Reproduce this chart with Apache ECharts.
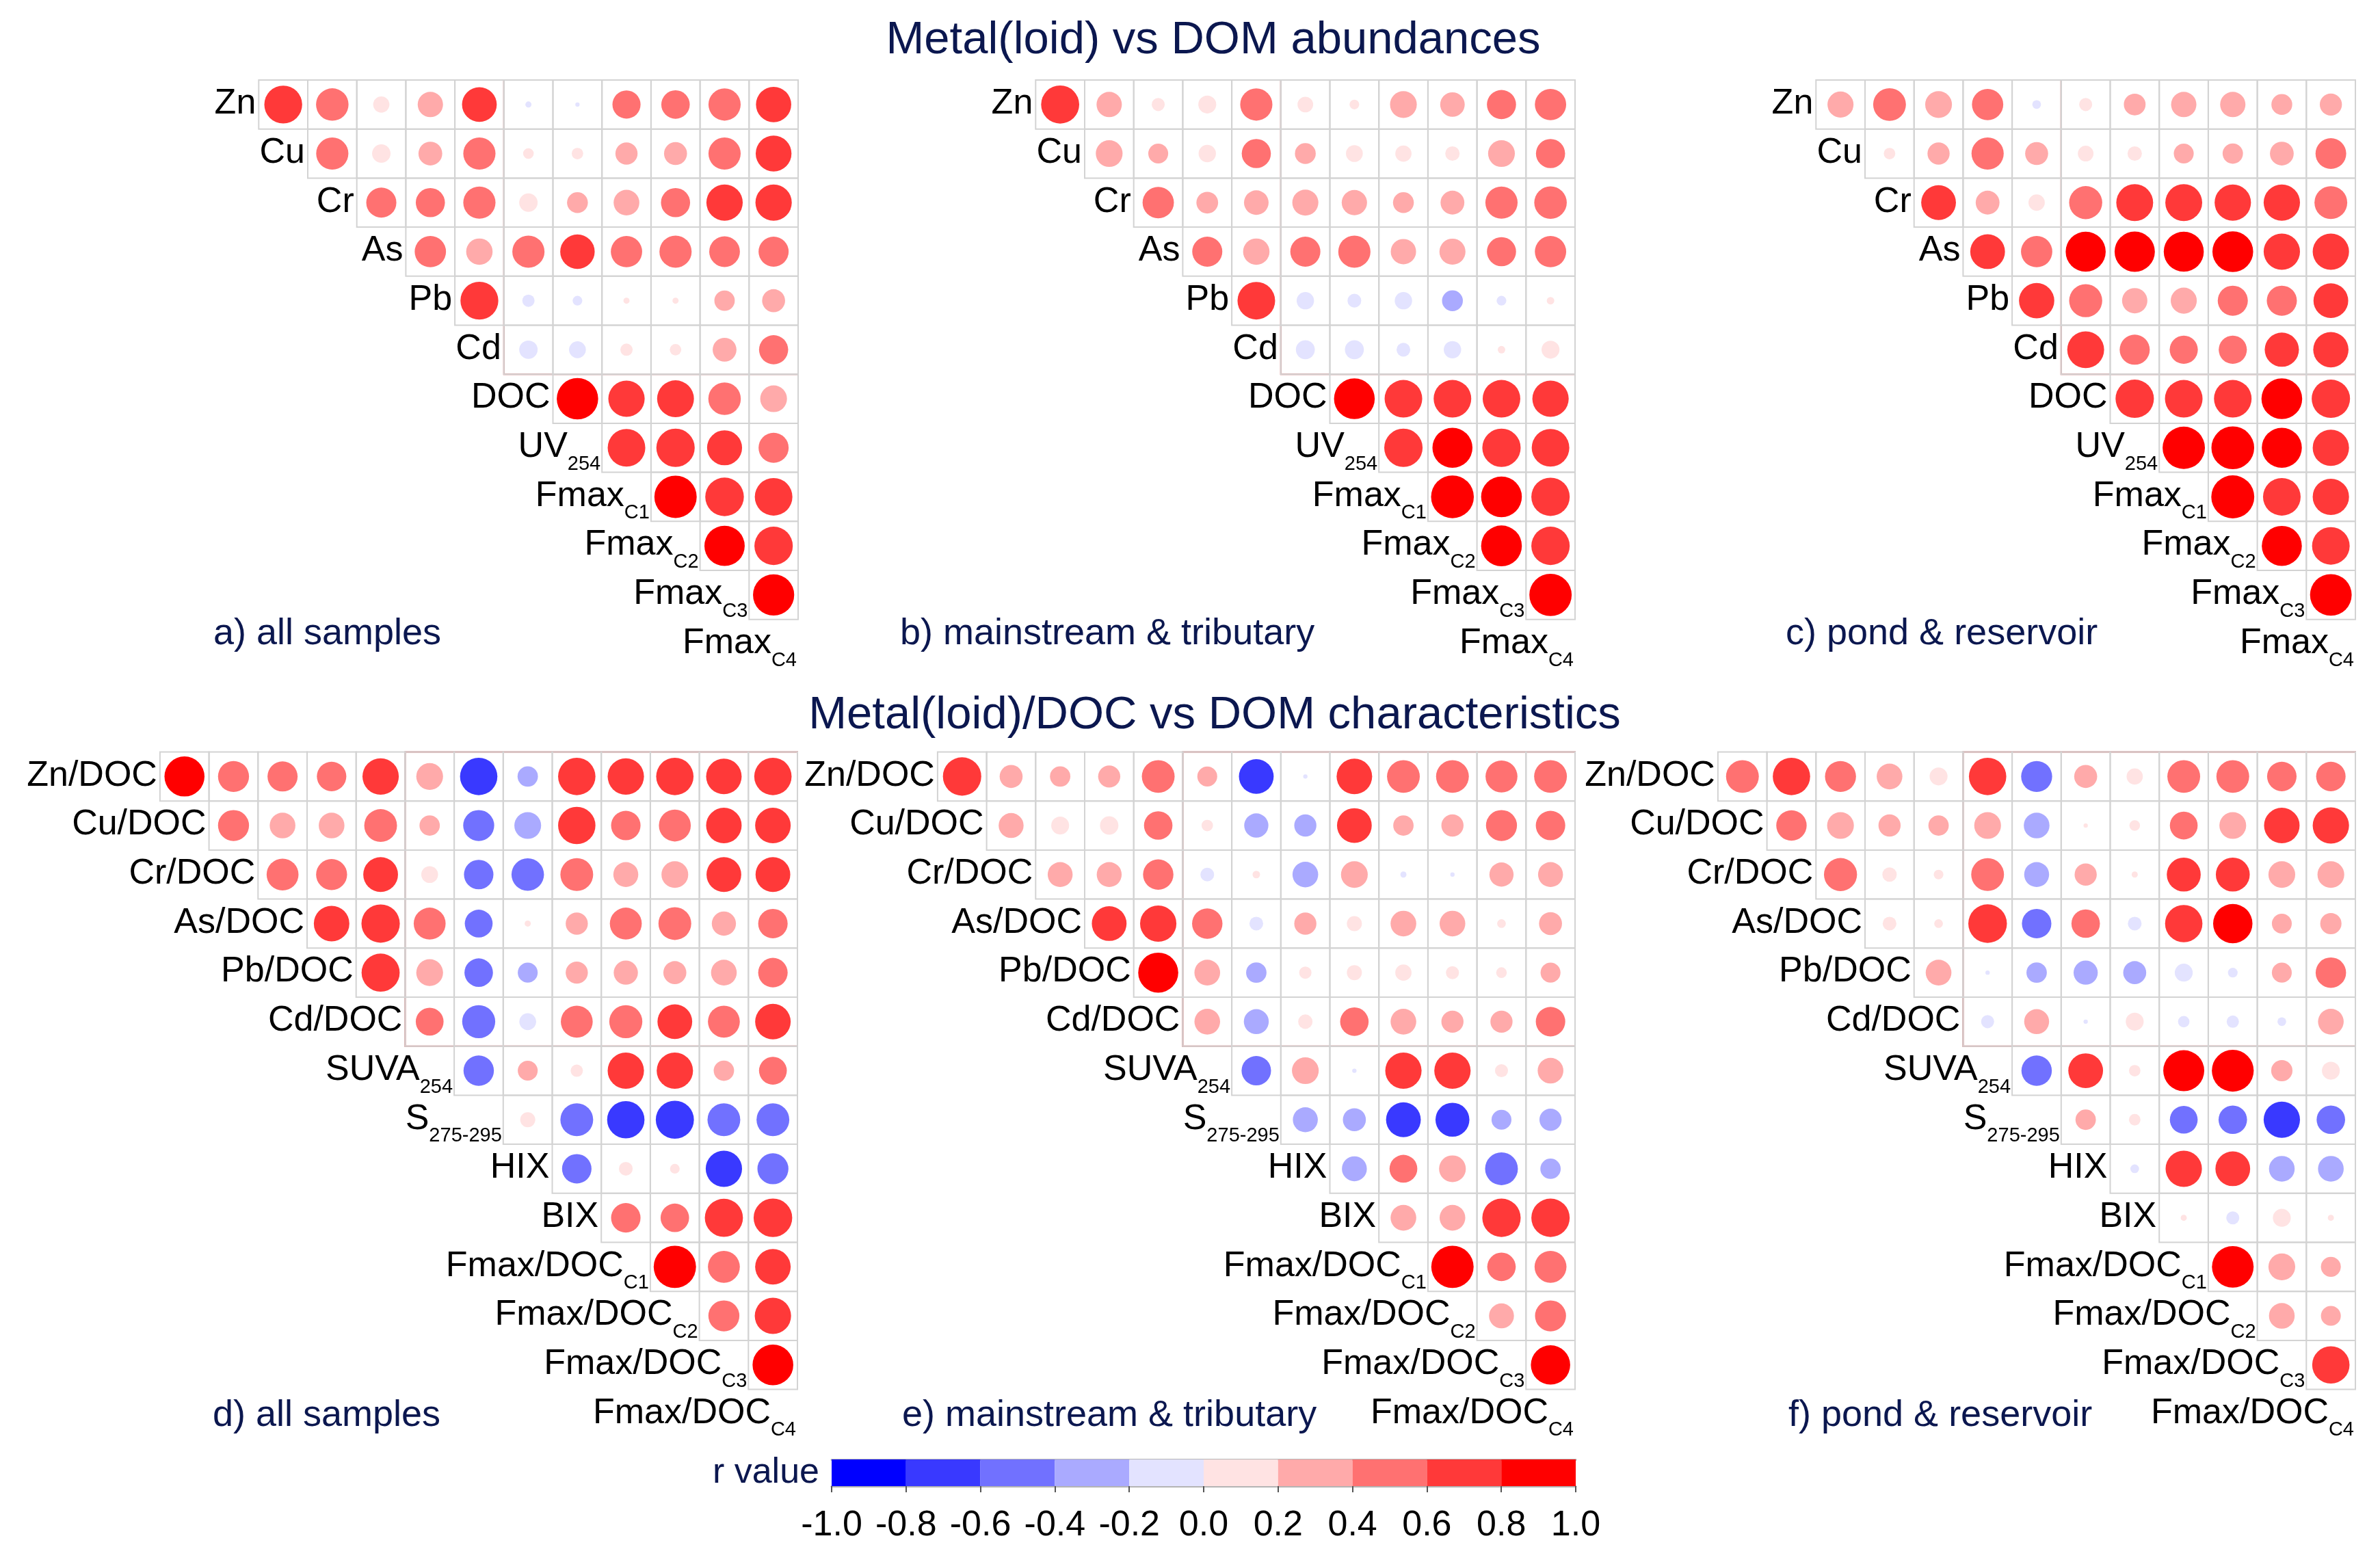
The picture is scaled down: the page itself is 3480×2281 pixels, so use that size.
<!DOCTYPE html>
<html>
<head>
<meta charset="utf-8">
<title>Metal(loid) vs DOM correlations</title>
<script src="https://cdn.jsdelivr.net/npm/echarts@6/dist/echarts.min.js"></script>
<style>
  html, body { margin: 0; padding: 0; background: #fff; }
  #chart { width: 3480px; height: 2281px; }
</style>
</head>
<body>
<div id="chart"></div>
<script>
// diagonal labels (name + subscript)
var topNames = ['Zn', 'Cu', 'Cr', 'As', 'Pb', 'Cd', 'DOC', 'UV', 'Fmax', 'Fmax', 'Fmax', 'Fmax'];
var topSubs = ['', '', '', '', '', '', '', '254', 'C1', 'C2', 'C3', 'C4'];
var botNames = ['Zn/DOC', 'Cu/DOC', 'Cr/DOC', 'As/DOC', 'Pb/DOC', 'Cd/DOC', 'SUVA', 'S', 'HIX', 'BIX',
  'Fmax/DOC', 'Fmax/DOC', 'Fmax/DOC', 'Fmax/DOC'];
var botSubs = ['', '', '', '', '', '', '254', '275-295', '', '', 'C1', 'C2', 'C3', 'C4'];

// r values, upper triangle row by row (row i -> columns i+1..n)
var rA = [
  [0.76, 0.56, 0.14, 0.34, 0.64, -0.02, -0.01, 0.42, 0.43, 0.55, 0.66],
  [0.55, 0.18, 0.30, 0.55, 0.06, 0.07, 0.26, 0.28, 0.55, 0.68],
  [0.48, 0.45, 0.55, 0.18, 0.23, 0.35, 0.45, 0.70, 0.70],
  [0.52, 0.37, 0.55, 0.63, 0.52, 0.55, 0.50, 0.48],
  [0.76, -0.08, -0.05, 0.02, 0.02, 0.22, 0.28],
  [-0.18, -0.15, 0.08, 0.07, 0.30, 0.45],
  [0.91, 0.70, 0.72, 0.56, 0.38],
  [0.75, 0.78, 0.65, 0.48],
  [0.95, 0.79, 0.75],
  [0.86, 0.78],
  [0.90]
];
var rB = [
  [0.77, 0.34, 0.09, 0.17, 0.55, 0.13, 0.05, 0.38, 0.32, 0.45, 0.52],
  [0.38, 0.21, 0.16, 0.45, 0.23, 0.15, 0.14, 0.11, 0.38, 0.45],
  [0.52, 0.25, 0.32, 0.36, 0.34, 0.23, 0.30, 0.55, 0.56],
  [0.48, 0.37, 0.48, 0.55, 0.34, 0.36, 0.45, 0.52],
  [0.75, -0.16, -0.10, -0.16, -0.23, -0.05, 0.03],
  [-0.19, -0.19, -0.10, -0.16, 0.03, 0.17],
  [0.88, 0.75, 0.75, 0.75, 0.70],
  [0.78, 0.85, 0.78, 0.75],
  [0.97, 0.88, 0.78],
  [0.88, 0.78],
  [0.95]
];
var rC = [
  [0.36, 0.57, 0.38, 0.52, -0.04, 0.09, 0.25, 0.34, 0.34, 0.23, 0.26],
  [0.07, 0.26, 0.55, 0.28, 0.13, 0.11, 0.21, 0.22, 0.30, 0.50],
  [0.64, 0.30, 0.14, 0.58, 0.72, 0.72, 0.70, 0.70, 0.57],
  [0.64, 0.52, 0.85, 0.86, 0.85, 0.88, 0.70, 0.70],
  [0.66, 0.58, 0.34, 0.36, 0.48, 0.48, 0.64],
  [0.72, 0.48, 0.42, 0.42, 0.62, 0.66],
  [0.78, 0.75, 0.75, 0.88, 0.78],
  [0.95, 0.97, 0.85, 0.70],
  [0.98, 0.75, 0.70],
  [0.85, 0.75],
  [0.92]
];
var rD = [
  [0.85, 0.51, 0.48, 0.46, 0.70, 0.38, -0.74, -0.22, 0.74, 0.70, 0.74, 0.67, 0.74],
  [0.51, 0.35, 0.35, 0.57, 0.22, -0.51, -0.38, 0.74, 0.46, 0.54, 0.67, 0.67],
  [0.54, 0.51, 0.64, 0.15, -0.46, -0.56, 0.57, 0.33, 0.38, 0.64, 0.64],
  [0.67, 0.78, 0.54, -0.41, 0.02, 0.26, 0.54, 0.57, 0.31, 0.46],
  [0.77, 0.38, -0.43, -0.21, 0.26, 0.31, 0.28, 0.35, 0.46],
  [0.41, -0.58, -0.15, 0.54, 0.58, 0.64, 0.54, 0.67],
  [-0.49, 0.21, 0.08, 0.70, 0.70, 0.22, 0.41],
  [0.12, -0.57, -0.74, -0.77, -0.57, -0.57],
  [-0.46, 0.10, 0.05, -0.70, -0.51],
  [0.46, 0.43, 0.77, 0.79],
  [0.95, 0.54, 0.67],
  [0.51, 0.70],
  [0.88]
];
var rE = [
  [0.78, 0.28, 0.22, 0.26, 0.57, 0.21, -0.64, -0.01, 0.67, 0.57, 0.57, 0.54, 0.57],
  [0.33, 0.17, 0.18, 0.43, 0.07, -0.31, -0.26, 0.64, 0.22, 0.26, 0.51, 0.46],
  [0.33, 0.33, 0.49, -0.10, 0.03, -0.35, 0.38, -0.02, -0.01, 0.31, 0.33],
  [0.64, 0.70, 0.49, -0.10, 0.26, 0.12, 0.35, 0.35, 0.04, 0.28],
  [0.85, 0.35, -0.22, 0.08, 0.12, 0.14, 0.09, 0.06, 0.21],
  [0.35, -0.33, 0.11, 0.43, 0.35, 0.26, 0.26, 0.46],
  [-0.46, 0.38, -0.01, 0.70, 0.70, 0.09, 0.35],
  [-0.33, -0.28, -0.64, -0.61, -0.21, -0.26],
  [-0.33, 0.41, 0.38, -0.57, -0.22],
  [0.35, 0.35, 0.78, 0.78],
  [0.95, 0.43, 0.54],
  [0.33, 0.51],
  [0.82]
];
var rF = [
  [0.57, 0.74, 0.51, 0.35, 0.17, 0.74, -0.51, 0.28, 0.14, 0.57, 0.57, 0.46, 0.46],
  [0.49, 0.38, 0.26, 0.22, 0.38, -0.35, 0.01, 0.06, 0.41, 0.38, 0.67, 0.70],
  [0.58, 0.11, 0.05, 0.57, -0.33, 0.26, 0.02, 0.61, 0.61, 0.38, 0.38],
  [0.10, 0.04, 0.79, -0.46, 0.43, -0.10, 0.74, 0.82, 0.21, 0.24],
  [0.35, -0.01, -0.22, -0.31, -0.28, -0.17, -0.05, 0.21, 0.49],
  [-0.09, 0.33, -0.01, 0.17, -0.07, -0.08, -0.04, 0.35],
  [-0.49, 0.64, 0.07, 0.89, 0.93, 0.24, 0.17],
  [0.22, 0.07, -0.41, -0.43, -0.70, -0.43],
  [-0.04, 0.70, 0.64, -0.35, -0.35],
  [0.02, -0.09, 0.17, 0.02],
  [0.92, 0.38, 0.21],
  [0.35, 0.21],
  [0.74]
];

var panelLabels = ['a) all samples', 'b) mainstream & tributary', 'c) pond & reservoir',
  'd) all samples', 'e) mainstream & tributary', 'f) pond & reservoir'];
var titles = ['Metal(loid) vs DOM abundances', 'Metal(loid)/DOC vs DOM characteristics'];

// colour key: 10 equal bins from -1 to 1
var binEdges = [-1, -0.8, -0.6, -0.4, -0.2, 0, 0.2, 0.4, 0.6, 0.8, 1];
var binColors = ['#0000FF', '#3939FF', '#7171FF', '#AAAAFF', '#E3E3FF',
  '#FFE3E3', '#FFAAAA', '#FF7171', '#FF3939', '#FF0000'];

var FONT = '"Liberation Sans", Arial, Helvetica, sans-serif';
var NAVY = '#0b174f';
var CELL = 71.7;
var RMAX = 63.5;      // circle diameter for |r| = 1
var LAB = 52, SUB = 29;

function binColor(r) {
  for (var k = 0; k < 10; k++) {
    if (r < binEdges[k + 1]) return binColors[k];
  }
  return binColors[9];
}

function cellData(m) {
  var out = [];
  for (var i = 0; i < m.length; i++) {
    for (var k = 0; k < m[i].length; k++) {
      out.push([i + k + 2, i + 1, m[i][k]]);
    }
  }
  return out;
}

var ctx = document.createElement('canvas').getContext('2d');
function textW(t, size) {
  ctx.font = size + 'px ' + FONT;
  return ctx.measureText(t).width;
}

function txt(x, y, text, size, color, align) {
  return {
    type: 'text', x: x, y: y,
    style: {
      text: text, font: size + 'px ' + FONT, fill: color,
      align: align, textAlign: align, verticalAlign: 'middle', textVerticalAlign: 'middle'
    }
  };
}

var panels = [
  { m: rA, names: topNames, subs: topSubs, right: 1167, top: 117, lx: 312, ly: 927 },
  { m: rB, names: topNames, subs: topSubs, right: 2303, top: 117, lx: 1316, ly: 927 },
  { m: rC, names: topNames, subs: topSubs, right: 3444, top: 117, lx: 2611, ly: 927 },
  { m: rD, names: botNames, subs: botSubs, right: 1166, top: 1099.5, lx: 311, ly: 2070 },
  { m: rE, names: botNames, subs: botSubs, right: 2303, top: 1099.5, lx: 1319, ly: 2070 },
  { m: rF, names: botNames, subs: botSubs, right: 3444, top: 1099.5, lx: 2615, ly: 2070 }
];

var grid = [], xAxis = [], yAxis = [], series = [];
var graphics = [
  txt(1774, 60, titles[0], 67, NAVY, 'center'),
  txt(1776, 1047, titles[1], 67, NAVY, 'center'),
  txt(1198, 2154, 'r value', 52, NAVY, 'right')
];

panels.forEach(function (p, g) {
  var n = p.names.length;
  var w = n * CELL;
  grid.push({ left: p.right - w, top: p.top, width: w, height: w });
  xAxis.push({ gridIndex: g, type: 'value', min: 0.5, max: n + 0.5, show: false });
  yAxis.push({ gridIndex: g, type: 'value', inverse: true, min: 0.5, max: n + 0.5, show: false });
  var data = cellData(p.m);

  // cell borders
  series.push({
    type: 'custom', xAxisIndex: g, yAxisIndex: g, silent: true, z: 1,
    data: data,
    renderItem: function (params, api) {
      var c = api.coord([api.value(0) - 0.5, api.value(1) - 0.5]);
      var s = api.size([1, 1]);
      return {
        type: 'rect',
        shape: { x: c[0], y: c[1], width: s[0], height: s[1] },
        style: { fill: null, stroke: '#d3d3d3', lineWidth: 2 }
      };
    }
  });

  // circles
  series.push({
    type: 'scatter', xAxisIndex: g, yAxisIndex: g, z: 3,
    data: data,
    symbol: 'circle',
    symbolSize: function (v) { return RMAX * Math.sqrt(Math.abs(v[2])); },
    itemStyle: { color: function (pr) { return binColor(pr.value[2]); }, opacity: 1 },
    emphasis: { disabled: true },
    markArea: {
      silent: true,
      label: { show: false },
      itemStyle: { color: 'rgba(0,0,0,0)', borderColor: '#d23c3c', borderWidth: 2 },
      data: [[{ coord: [6.5, 0.5] }, { coord: [n + 0.5, 6.5] }]]
    }
  });

  // diagonal labels
  var idx = p.names.map(function (s, i) { return [i + 1, i + 1]; });
  series.push({
    type: 'custom', xAxisIndex: g, yAxisIndex: g, silent: true, z: 4,
    data: idx,
    renderItem: function (params, api) {
      var k = params.dataIndex;
      var c = api.coord([api.value(0) + 0.5, api.value(1)]);
      var sub = p.subs[k];
      var sw = sub ? textW(sub, SUB) : 0;
      var xr = c[0] - (sub ? 2 : 4);
      var kids = [txt(xr - sw, c[1] - 1, p.names[k], LAB, '#000', 'right')];
      if (sub) kids.push(txt(xr, c[1] + 24, sub, SUB, '#000', 'right'));
      return { type: 'group', children: kids };
    }
  });

  graphics.push(txt(p.lx, p.ly, panelLabels[g], 54, NAVY, 'left'));
});

// colour bar
var cb = panels.length;
grid.push({ left: 1216, top: 2134, width: 1088, height: 39 });
xAxis.push({
  gridIndex: cb, type: 'value', min: -1, max: 1, interval: 0.2, position: 'bottom',
  axisLine: { lineStyle: { color: '#b4b4b4', width: 3 } },
  axisTick: { length: 9, lineStyle: { color: '#555', width: 2 } },
  axisLabel: {
    fontSize: 52, fontFamily: FONT, color: '#000', margin: 32,
    showMinLabel: true, showMaxLabel: true,
    formatter: function (v) { return v.toFixed(1); }
  },
  splitLine: { show: false }
});
xAxis.push({
  gridIndex: cb, type: 'value', min: -1, max: 1, position: 'top',
  axisLine: { lineStyle: { color: '#b4b4b4', width: 3 } },
  axisTick: { show: false }, axisLabel: { show: false }, splitLine: { show: false }
});
yAxis.push({ gridIndex: cb, type: 'value', min: 0, max: 1, show: false });
series.push({
  type: 'custom', xAxisIndex: cb, yAxisIndex: cb, silent: true,
  data: binColors.map(function (c, k) { return [binEdges[k], binEdges[k + 1], k]; }),
  renderItem: function (params, api) {
    var a = api.coord([api.value(0), 1]);
    var b = api.coord([api.value(1), 0]);
    return {
      type: 'rect',
      shape: { x: a[0], y: a[1], width: b[0] - a[0], height: b[1] - a[1] },
      style: { fill: binColors[api.value(2)] }
    };
  }
});

var chart = echarts.init(document.getElementById('chart'));
chart.setOption({
  animation: false,
  backgroundColor: '#fff',
  grid: grid,
  xAxis: xAxis,
  yAxis: yAxis,
  graphic: { elements: graphics },
  series: series
});
</script>
</body>
</html>
